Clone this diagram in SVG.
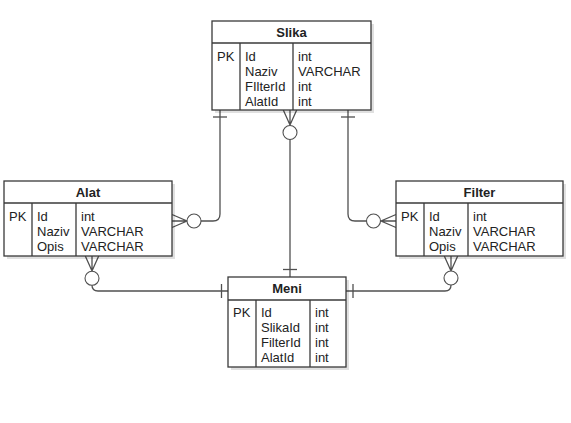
<svg xmlns="http://www.w3.org/2000/svg" width="571" height="423" viewBox="0 0 571 423">
<style>
.bg{fill:#ffffff}
.sh{fill:#000000;opacity:0.12}
.box{fill:#ffffff;stroke:#3a3a3a;stroke-width:1.3}
.ln{stroke:#3a3a3a;stroke-width:1.3;fill:none}
.t{font-family:"Liberation Sans",Arial,sans-serif;font-size:13px;fill:#222222}
.h{font-family:"Liberation Sans",Arial,sans-serif;font-size:13px;font-weight:bold;fill:#222222;text-anchor:middle}
.c{stroke:#505050;stroke-width:1.3;fill:none}
.o{stroke:#505050;stroke-width:1.1;fill:#ffffff}
</style>
<rect class="bg" x="0" y="0" width="571" height="423"/>

<g id="connectors">
  <!-- Slika left to Alat right -->
  <path class="c" d="M220,110 L220,214 Q220,221 213,221 L201,221"/>
  <line class="c" x1="213" y1="117" x2="227" y2="117"/>
  <path class="c" d="M172,214.5 L187,221 L172,227.5 M172,221 L187,221"/>
  <circle class="o" cx="194" cy="221" r="7"/>

  <!-- Slika right to Filter left -->
  <path class="c" d="M348,110 L348,214 Q348,221 355,221 L366,221"/>
  <line class="c" x1="341" y1="117" x2="355" y2="117"/>
  <path class="c" d="M396,214.5 L381,221 L396,227.5 M396,221 L381,221"/>
  <circle class="o" cx="373.5" cy="221" r="7"/>

  <!-- Slika center to Meni top -->
  <path class="c" d="M283.3,110 L290,125 L296.7,110 M290,110 L290,125"/>
  <circle class="o" cx="290" cy="132.5" r="7"/>
  <line class="c" x1="290" y1="139.5" x2="290" y2="277"/>
  <line class="c" x1="283" y1="269.5" x2="297" y2="269.5"/>

  <!-- Alat bottom to Meni left -->
  <path class="c" d="M85.3,256 L92,271 L98.7,256 M92,256 L92,271"/>
  <circle class="o" cx="92" cy="278.3" r="7"/>
  <path class="c" d="M92,285.3 Q92,291 98,291 L228,291"/>
  <line class="c" x1="221.5" y1="284" x2="221.5" y2="298"/>

  <!-- Filter bottom to Meni right -->
  <path class="c" d="M444.3,256 L451,271 L457.7,256 M451,256 L451,271"/>
  <circle class="o" cx="451" cy="278" r="7"/>
  <path class="c" d="M451,285 Q451,291 445,291 L346,291"/>
  <line class="c" x1="353" y1="284" x2="353" y2="298"/>
</g>

<g id="Slika">
  <rect class="sh" x="215" y="24" width="159" height="89"/>
  <rect class="box" x="212" y="21" width="159" height="89"/>
  <line class="ln" x1="212" y1="43" x2="371" y2="43"/>
  <line class="ln" x1="240" y1="43" x2="240" y2="110"/>
  <line class="ln" x1="293" y1="43" x2="293" y2="110"/>
  <text class="h" x="291.5" y="36.5">Slika</text>
  <text class="t" x="217" y="60.5">PK</text>
  <text class="t" x="245" y="60.5">Id</text>
  <text class="t" x="245" y="75.5">Naziv</text>
  <text class="t" x="245" y="90.5">FIlterId</text>
  <text class="t" x="245" y="105.5">AlatId</text>
  <text class="t" x="298" y="60.5">int</text>
  <text class="t" x="298" y="75.5">VARCHAR</text>
  <text class="t" x="298" y="90.5">int</text>
  <text class="t" x="298" y="105.5">int</text>
</g>

<g id="Alat">
  <rect class="sh" x="7" y="184" width="168" height="75"/>
  <rect class="box" x="4" y="181" width="168" height="75"/>
  <line class="ln" x1="4" y1="203" x2="172" y2="203"/>
  <line class="ln" x1="32" y1="203" x2="32" y2="256"/>
  <line class="ln" x1="76" y1="203" x2="76" y2="256"/>
  <text class="h" x="88" y="196.5">Alat</text>
  <text class="t" x="9" y="220.5">PK</text>
  <text class="t" x="37" y="220.5">Id</text>
  <text class="t" x="37" y="235.5">Naziv</text>
  <text class="t" x="37" y="250.5">Opis</text>
  <text class="t" x="81" y="220.5">int</text>
  <text class="t" x="81" y="235.5">VARCHAR</text>
  <text class="t" x="81" y="250.5">VARCHAR</text>
</g>

<g id="Filter">
  <rect class="sh" x="399" y="184" width="167" height="75"/>
  <rect class="box" x="396" y="181" width="167" height="75"/>
  <line class="ln" x1="396" y1="203" x2="563" y2="203"/>
  <line class="ln" x1="424" y1="203" x2="424" y2="256"/>
  <line class="ln" x1="468" y1="203" x2="468" y2="256"/>
  <text class="h" x="479.5" y="196.5">Filter</text>
  <text class="t" x="401" y="220.5">PK</text>
  <text class="t" x="429" y="220.5">Id</text>
  <text class="t" x="429" y="235.5">Naziv</text>
  <text class="t" x="429" y="250.5">Opis</text>
  <text class="t" x="473" y="220.5">int</text>
  <text class="t" x="473" y="235.5">VARCHAR</text>
  <text class="t" x="473" y="250.5">VARCHAR</text>
</g>

<g id="Meni">
  <rect class="sh" x="231" y="280" width="118" height="90"/>
  <rect class="box" x="228" y="277" width="118" height="90"/>
  <line class="ln" x1="228" y1="300" x2="346" y2="300"/>
  <line class="ln" x1="256" y1="300" x2="256" y2="367"/>
  <line class="ln" x1="310" y1="300" x2="310" y2="367"/>
  <text class="h" x="287" y="292.5">Meni</text>
  <text class="t" x="233" y="316.5">PK</text>
  <text class="t" x="261" y="316.5">Id</text>
  <text class="t" x="261" y="331.5">SlikaId</text>
  <text class="t" x="261" y="346.5">FilterId</text>
  <text class="t" x="261" y="361.5">AlatId</text>
  <text class="t" x="315" y="316.5">int</text>
  <text class="t" x="315" y="331.5">int</text>
  <text class="t" x="315" y="346.5">int</text>
  <text class="t" x="315" y="361.5">int</text>
</g>
</svg>
